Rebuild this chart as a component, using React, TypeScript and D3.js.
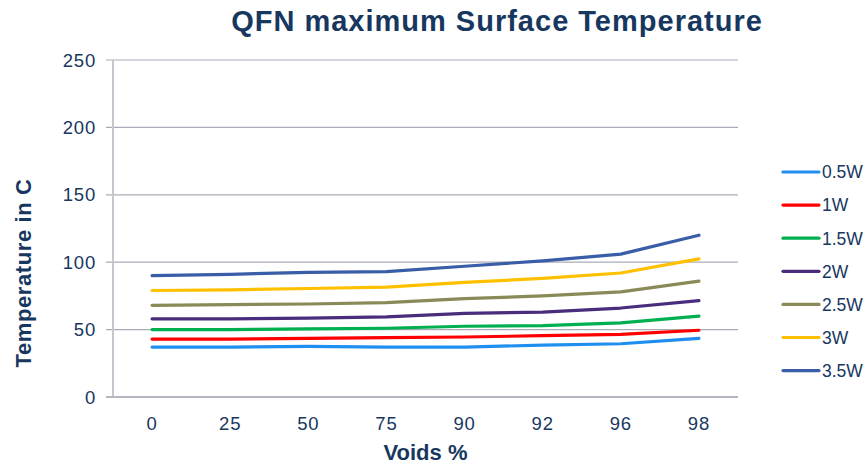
import React from "react";
import * as d3 from "d3";

const categories = ["0", "25", "50", "75", "90", "92", "96", "98"];
const seriesNames = ["0.5W", "1W", "1.5W", "2W", "2.5W", "3W", "3.5W"];
const s05W = [37, 37, 37.5, 37, 37, 38.5, 39.5, 43.5];
const s1W = [43, 43, 43.5, 44, 44.5, 45.5, 46.5, 49.5];
const s15W = [50, 50, 50.5, 51, 52.5, 53, 55, 60];
const s2W = [58, 58, 58.5, 59.5, 62, 63, 66, 71.5];
const s25W = [68, 68.5, 69, 70, 73, 75, 78, 86];
const s3W = [79, 79.5, 80.5, 81.5, 85, 88, 92, 102.5];
const s35W = [90, 91, 92.5, 93, 97, 101, 106, 120];
const yTicks = [0, 50, 100, 150, 200, 250];
const seriesValues = [s05W, s1W, s15W, s2W, s25W, s3W, s35W];
const colors = ["#1E8FF0", "#FF0000", "#00B050", "#4A2C7C", "#8A8A58", "#FFC000", "#3A5DA8"];

const W = 865;
const H = 466;
const left = 113;
const right = 738;
const top = 60;
const bottom = 397;
const textColor = "#17375E";
const font = "'Liberation Sans', Arial, sans-serif";

export default function App() {
  const x = d3.scaleBand<string>().domain(categories).range([left, right]);
  const y = d3.scaleLinear().domain([0, 250]).range([bottom, top]);
  const line = d3
    .line<number>()
    .x((_, i) => (x(categories[i]) as number) + x.bandwidth() / 2)
    .y((d) => y(d));

  return (
    <svg
      width={W}
      height={H}
      style={{ position: "absolute", left: 0, top: 0, background: "#fff" }}
      fontFamily={font}
    >
      <rect x={0} y={0} width={W} height={H} fill="#fff" />
      <text
        x={497}
        y={31}
        textAnchor="middle"
        fontSize={29}
        fontWeight="bold"
        fill={textColor}
        letterSpacing={1}
      >
        QFN maximum Surface Temperature
      </text>
      {yTicks.map((t) => (
        <g key={t}>
          {t > 0 && (
            <line x1={106} x2={right} y1={y(t)} y2={y(t)} stroke="#A9ABB8" strokeWidth={1.2} />
          )}
          <text
            x={96}
            y={y(t)}
            dy="0.36em"
            textAnchor="end"
            fontSize={18.5}
            fill={textColor}
            letterSpacing={0.8}
          >
            {t}
          </text>
        </g>
      ))}
      <line x1={left} x2={left} y1={top} y2={bottom} stroke="#C4C7D0" strokeWidth={2} />
      <line x1={106} x2={right} y1={bottom} y2={bottom} stroke="#B4B7C2" strokeWidth={2} />
      {categories.map((c) => (
        <text
          key={c}
          x={(x(c) as number) + x.bandwidth() / 2}
          y={430}
          textAnchor="middle"
          fontSize={18.5}
          fill={textColor}
          letterSpacing={0.8}
        >
          {c}
        </text>
      ))}
      <text
        x={(left + right) / 2}
        y={460}
        textAnchor="middle"
        fontSize={22}
        fontWeight="bold"
        fill={textColor}
      >
        Voids %
      </text>
      <text
        transform={`translate(31,${273}) rotate(-90)`}
        textAnchor="middle"
        fontSize={22}
        fontWeight="bold"
        fill={textColor}
        letterSpacing={0.6}
      >
        Temperature in C
      </text>
      {seriesValues.map((vals, i) => (
        <path
          key={seriesNames[i]}
          d={line(vals) || ""}
          fill="none"
          stroke={colors[i]}
          strokeWidth={3.2}
          strokeLinejoin="round"
          strokeLinecap="round"
        />
      ))}
      {seriesNames.map((n, i) => {
        const ly = 172 + i * 33.1;
        return (
          <g key={n}>
            <line x1={783} x2={819} y1={ly} y2={ly} stroke={colors[i]} strokeWidth={3.2} strokeLinecap="round" />
            <text x={822} y={ly} dy="0.36em" fontSize={17.5} fill={textColor}>
              {n}
            </text>
          </g>
        );
      })}
    </svg>
  );
}
